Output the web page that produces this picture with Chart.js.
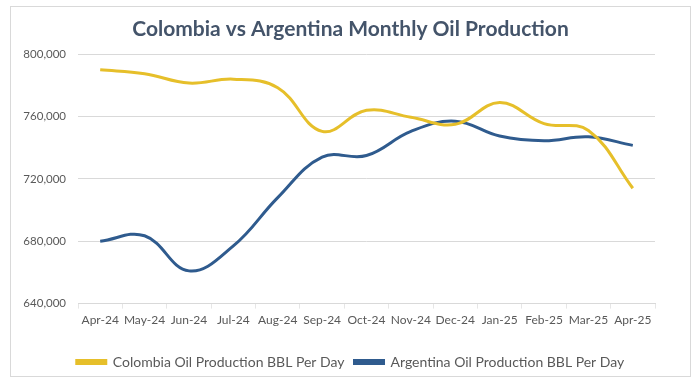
<!DOCTYPE html>
<html>
<head>
<meta charset="utf-8">
<script src="https://cdn.jsdelivr.net/npm/chart.js@4/dist/chart.umd.min.js"></script>
<style>
  html, body { margin: 0; padding: 0; background: #ffffff; }
  #wrap { width: 700px; height: 386px; position: relative; }
</style>
</head>
<body>
<div id="wrap"><canvas id="c" width="700" height="386"></canvas></div>
<script>
const categories = ['Apr-24','May-24','Jun-24','Jul-24','Aug-24','Sep-24','Oct-24','Nov-24','Dec-24','Jan-25','Feb-25','Mar-25','Apr-25'];
const colombia = [790000, 787500, 781500, 784000, 778500, 750500, 764000, 759500, 755000, 769000, 755500, 751000, 714000];
const argentina = [680000, 683500, 661000, 677000, 708000, 734000, 735000, 750500, 757000, 747500, 744500, 747000, 741500];
const seriesNames = ['Colombia Oil Production BBL Per Day', 'Argentina Oil Production BBL Per Day'];
const chartTitle = 'Colombia vs Argentina Monthly Oil Production';

const frame = {
  id: 'frame',
  afterLayout(chart) {
    // centre title and legend on the whole frame, like the reference
    const shift = 17;
    [chart.titleBlock, chart.legend].forEach(b => {
      if (b) { b.left += shift; b.right += shift; }
    });
  },
  beforeDraw(chart) {
    const ctx = chart.ctx;
    ctx.save();
    ctx.fillStyle = '#ffffff';
    ctx.fillRect(0, 0, chart.width, chart.height);
    ctx.strokeStyle = '#d9d9d9';
    ctx.lineWidth = 1;
    ctx.strokeRect(10.5, 6.5, 680, 370);
    ctx.restore();
  }
};

new Chart(document.getElementById('c'), {
  type: 'line',
  data: {
    labels: categories,
    datasets: [
      { label: seriesNames[0], data: colombia, borderColor: '#E6BF2A', backgroundColor: '#E6BF2A', borderWidth: 3, pointRadius: 0, tension: 0.4, fill: false },
      { label: seriesNames[1], data: argentina, borderColor: '#2F5B8E', backgroundColor: '#2F5B8E', borderWidth: 3, pointRadius: 0, tension: 0.4, fill: false }
    ]
  },
  options: {
    responsive: false,
    animation: false,
    devicePixelRatio: 1,
    layout: { padding: { left: 12, right: 45, top: 0, bottom: 7 } },
    plugins: {
      title: {
        display: true,
        text: chartTitle,
        color: '#44546A',
        font: { family: 'Lato', size: 21, weight: 'bold' },
        padding: { top: 17, bottom: 12 }
      },
      legend: {
        position: 'bottom',
        labels: {
          color: '#595959',
          font: { family: 'Lato', size: 14 },
          boxWidth: 29,
          boxHeight: 3,
          padding: 10
        }
      },
      tooltip: { enabled: false }
    },
    scales: {
      x: {
        offset: true,
        afterFit(axis) { axis.height = axis.height + 14; },
        grid: { display: true, drawOnChartArea: false, color: '#e6e6e6', tickLength: 5, offset: true },
        border: { display: true, color: '#d9d9d9' },
        ticks: { color: '#595959', font: { family: 'Lato', size: 12 }, maxRotation: 0, autoSkip: false, padding: 4 }
      },
      y: {
        min: 640000,
        max: 800000,
        afterFit(axis) { axis.width = 66; },
        grid: { color: '#d9d9d9', drawTicks: false },
        border: { display: false },
        ticks: { stepSize: 40000, color: '#595959', font: { family: 'Lato', size: 11.5 }, padding: 12 }
      }
    }
  },
  plugins: [frame]
});
</script>
</body>
</html>
